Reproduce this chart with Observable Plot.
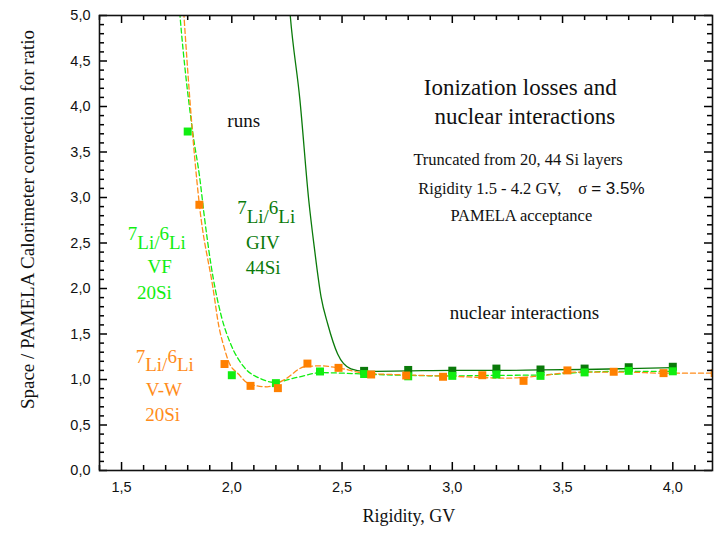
<!DOCTYPE html>
<html>
<head>
<meta charset="utf-8">
<script src="https://cdn.jsdelivr.net/npm/d3@7"></script>
<script src="https://cdn.jsdelivr.net/npm/@observablehq/plot@0.6"></script>
<style>
  html, body { margin: 0; padding: 0; background: #fff; }
</style>
</head>
<body>
<script>
// ---- data ----
const vfX = [1.8, 2.0, 2.2, 2.4, 2.6, 2.8, 3.0, 3.2, 3.4, 3.6, 3.8, 4.0];
const vfY = [3.725, 1.047, 0.96, 1.088, 1.06, 1.035, 1.04, 1.055, 1.04, 1.078, 1.095, 1.09];

const givX = [2.6, 2.8, 3.0, 3.2, 3.4, 3.6, 3.8, 4.0];
const givY = [1.095, 1.105, 1.097, 1.12, 1.11, 1.12, 1.135, 1.14];

const vwX = [1.853, 1.967, 2.085, 2.209, 2.343, 2.484, 2.632, 2.791, 2.958, 3.136, 3.323, 3.522, 3.732, 3.958, 4.19];
const vwY = [2.92, 1.17, 0.93, 0.905, 1.175, 1.128, 1.055, 1.044, 1.03, 1.047, 0.985, 1.10, 1.085, 1.07, 1.07];

// fitted curves
const fitGivX = [2.255, 2.265, 2.309, 2.349, 2.374, 2.405, 2.435, 2.48, 2.54, 2.6, 2.8, 3.0, 3.2, 3.4, 3.6, 3.8, 4.0];
const fitGivY = [5.3, 5.0, 4.07, 2.97, 2.454, 1.905, 1.61, 1.28, 1.117, 1.09, 1.095, 1.10, 1.10, 1.105, 1.11, 1.12, 1.13];

const fitVfX = [1.755, 1.765, 1.822, 1.856, 1.874, 1.905, 1.95, 1.995, 2.056, 2.13, 2.19, 2.3, 2.4, 2.5, 2.6, 2.8, 3.0, 3.2, 3.4, 3.6, 3.8, 4.0];
const fitVfY = [5.3, 5.0, 3.73, 3.19, 2.82, 2.27, 1.72, 1.39, 1.135, 1.01, 0.97, 1.025, 1.075, 1.07, 1.06, 1.045, 1.04, 1.045, 1.05, 1.08, 1.09, 1.09];

const fitVwX = [1.775, 1.783, 1.81, 1.853, 1.915, 1.942, 1.965, 1.985, 2.03, 2.08, 2.16, 2.24, 2.33, 2.4, 2.5, 2.6, 2.8, 3.0, 3.25, 3.4, 3.55, 3.8, 3.95, 4.19];
const fitVwY = [5.3, 5.0, 4.07, 2.92, 2.0, 1.575, 1.355, 1.2, 1.06, 0.95, 0.92, 1.0, 1.14, 1.15, 1.12, 1.07, 1.05, 1.035, 1.015, 1.04, 1.08, 1.08, 1.07, 1.07];

const xMajor = [1.5, 2.0, 2.5, 3.0, 3.5, 4.0];
const yMajor = [0, 0.5, 1.0, 1.5, 2.0, 2.5, 3.0, 3.5, 4.0, 4.5, 5.0];
const xMinor = d3.range(14, 42).map(d => d / 10).filter(d => !xMajor.some(m => Math.abs(m - d) < 1e-9));
const yMinor = d3.range(0, 51).map(d => d / 10).filter(d => !yMajor.some(m => Math.abs(m - d) < 1e-9));

const fmt = d => d.toFixed(1).replace(".", ",");
const zip = (xs, ys) => xs.map((x, i) => ({x, y: ys[i]}));

const cLight = "#11ee11";
const cDark = "#0a7a0a";
const cOrange = "#ff8000";
const cOrangeText = "#ff8c1a";

const serif = "'Liberation Serif', 'Times New Roman', serif";
const sans = "'Liberation Sans', Arial, sans-serif";

const W = 716, H = 534, ML = 99, MR = 4, MT = 15, MB = 64;
const PW = W - ML - MR, PH = H - MT - MB;

const label = (s, x, y, size, fill, extra = {}) =>
  Plot.text([s], {x, y, text: d => d, fontSize: size, fill, fontFamily: serif, ...extra});

// inward tick marks drawn as short rules hugging each side of the frame
const tickRulesX = (vals, len) => [
  Plot.ruleX(vals, {x: d => d, insetTop: PH - len, stroke: "#000", strokeWidth: 1.5}),
  Plot.ruleX(vals, {x: d => d, insetBottom: PH - len, stroke: "#000", strokeWidth: 1.5})
];
const tickRulesY = (vals, len) => [
  Plot.ruleY(vals, {y: d => d, insetRight: PW - len, stroke: "#000", strokeWidth: 1.5}),
  Plot.ruleY(vals, {y: d => d, insetLeft: PW - len, stroke: "#000", strokeWidth: 1.5})
];

const svg = Plot.plot({
  width: W,
  height: H,
  marginLeft: ML,
  marginRight: MR,
  marginTop: MT,
  marginBottom: MB,
  style: {fontFamily: serif, background: "#fff"},
  x: {domain: [1.4, 4.18]},
  y: {domain: [0, 5]},
  marks: [
    // curves
    Plot.line(zip(fitGivX, fitGivY), {x: "x", y: "y", stroke: cDark, strokeWidth: 1.3, curve: "monotone-x", clip: true}),
    Plot.line(zip(fitVfX, fitVfY), {x: "x", y: "y", stroke: cLight, strokeWidth: 1.3, strokeDasharray: "5,3", curve: "monotone-x", clip: true}),
    Plot.line(zip(fitVwX, fitVwY), {x: "x", y: "y", stroke: cOrangeText, strokeWidth: 1.3, strokeDasharray: "5,3", curve: "monotone-x", clip: true}),
    // points
    Plot.dot(zip(givX, givY), {x: "x", y: "y", symbol: "square", r: 4.5, fill: cDark, clip: true}),
    Plot.dot(zip(vfX, vfY), {x: "x", y: "y", symbol: "square", r: 4.5, fill: cLight, clip: true}),
    Plot.dot(zip(vwX, vwY), {x: "x", y: "y", symbol: "square", r: 4.5, fill: cOrange, clip: true}),
    // ticks
    ...tickRulesX(xMajor, 8),
    ...tickRulesX(xMinor, 5),
    ...tickRulesY(yMajor, 8),
    ...tickRulesY(yMinor, 5),
    // tick labels
    Plot.axisX(xMajor, {anchor: "bottom", tickSize: 0, tickPadding: 11, tickFormat: fmt, fontFamily: sans, fontSize: 14.5, label: null, fill: "#111"}),
    Plot.axisY(yMajor, {anchor: "left", tickSize: 0, tickPadding: 9, tickFormat: fmt, fontFamily: sans, fontSize: 14.5, label: null, fill: "#111"}),
    Plot.frame({stroke: "#111", strokeWidth: 1.6}),
    // axis titles
    label("Rigidity, GV", 2.803, -0.505, 18, "#111"),
    label("Space / PAMELA Calorimeter correction for ratio", 1.0735, 2.758, 19, "#111", {rotate: -90}),
    // annotations
    label("runs", 2.054, 3.84, 19, "#111"),
    label("Ionization losses and", 3.308, 4.202, 23, "#111"),
    label("nuclear interactions", 3.329, 3.891, 23, "#111"),
    label("Truncated from 20, 44 Si layers", 3.298, 3.42, 16.5, "#111"),
    label("Rigidity 1.5 - 4.2 GV,|σ|= 3.5%", 2.845, 3.099, 16.5, "#111", {textAnchor: "start"}),
    label("PAMELA acceptance", 3.313, 2.805, 16.5, "#111"),
    label("nuclear interactions", 3.327, 1.736, 19, "#111"),
    // series labels
    label("7Li/6Li", 2.156, 2.789, 19, cDark),
    label("GIV", 2.141, 2.503, 19, cDark),
    label("44Si", 2.142, 2.229, 19, cDark),
    label("7Li/6Li", 1.66, 2.503, 19, cLight),
    label("VF", 1.673, 2.235, 19, cLight),
    label("20Si", 1.649, 1.954, 19, cLight),
    label("7Li/6Li", 1.696, 1.158, 19, cOrangeText),
    label("V-W", 1.692, 0.891, 19, cOrangeText),
    label("20Si", 1.686, 0.609, 19, cOrangeText)
  ]
});

// rich text: superscript isotopes and sans-serif sigma value
d3.select(svg).selectAll("text").each(function () {
  const t = this.textContent;
  const sel = d3.select(this);
  if (t === "7Li/6Li") {
    sel.text(null);
    sel.append("tspan").attr("dy", "-0.45em").text("7");
    sel.append("tspan").attr("dy", "0.45em").text("Li/");
    sel.append("tspan").attr("dy", "-0.45em").text("6");
    sel.append("tspan").attr("dy", "0.45em").text("Li");
  } else if (t === "Rigidity 1.5 - 4.2 GV,|σ|= 3.5%") {
    sel.text(null);
    sel.append("tspan").text("Rigidity 1.5 - 4.2 GV,");
    sel.append("tspan").attr("dx", 17).text("σ");
    sel.append("tspan").attr("dx", 4).attr("font-family", sans).attr("font-size", 17).text("= 3.5%");
  }
});

document.body.append(svg);
</script>
</body>
</html>
